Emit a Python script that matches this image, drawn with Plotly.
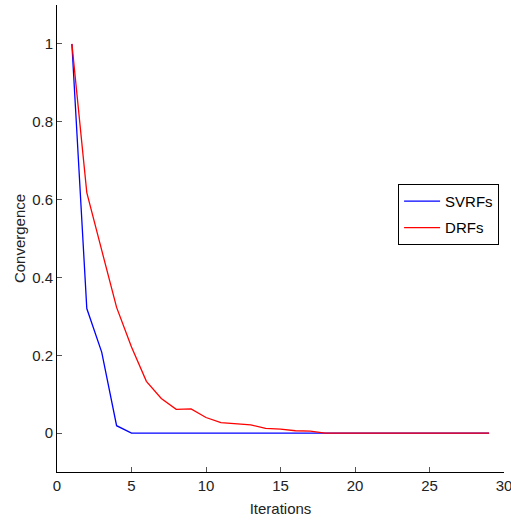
import plotly.graph_objects as go

iterations = list(range(1, 30))
svrfs = [1.0, 0.32, 0.208, 0.019] + [0.0] * 25
drfs = [1.0, 0.618, 0.47, 0.323, 0.221, 0.133, 0.089, 0.061, 0.062, 0.040,
        0.027, 0.024, 0.021, 0.012, 0.010, 0.006, 0.005] + [0.0] * 12

x_ticks = [0, 5, 10, 15, 20, 25, 30]
y_ticks = [0, 0.2, 0.4, 0.6, 0.8, 1]

FONT = "Liberation Sans, Arial, sans-serif"

fig = go.Figure()
fig.add_trace(go.Scatter(x=iterations, y=svrfs, mode="lines", name="SVRFs",
                         line=dict(color="#0000ff", width=1.3), legendgroup="a"))
fig.add_trace(go.Scatter(x=iterations, y=drfs, mode="lines", name="DRFs",
                         line=dict(color="#ff0000", width=1.3), legendgroup="b"))

fig.update_layout(
    width=511, height=521,
    margin=dict(l=57, r=7, t=5, b=49, autoexpand=False),
    paper_bgcolor="white", plot_bgcolor="white",
    font=dict(family=FONT, size=15, color="#222222"),
    showlegend=True,
    legend=dict(x=0.989, y=0.617, xanchor="right", yanchor="top",
                bordercolor="black", borderwidth=1, bgcolor="white",
                font=dict(family=FONT, size=15, color="black"),
                itemwidth=36,
                traceorder="grouped", tracegroupgap=4),
    xaxis=dict(range=[0, 30], tickvals=x_ticks, ticktext=[str(v) for v in x_ticks],
               showgrid=False, zeroline=False, showline=True, linecolor="black",
               linewidth=1, ticks="inside", ticklen=5, tickcolor="#555555",
               automargin=False, ticklabeloverflow="allow",
               title=dict(text="Iterations", standoff=10, font=dict(size=15))),
    yaxis=dict(range=[-0.1, 1.1], tickvals=y_ticks, ticktext=["0", "0.2", "0.4", "0.6", "0.8", "1"],
               showgrid=False, zeroline=False, showline=True, linecolor="black",
               linewidth=1, ticks="inside", ticklen=5, tickcolor="#555555",
               automargin=False,
               title=dict(text="Convergence", standoff=2, font=dict(size=15))),
)

fig.write_html("out.html", config={"displayModeBar": False},
               post_script="document.body.style.margin='0';document.body.style.overflow='hidden';")
